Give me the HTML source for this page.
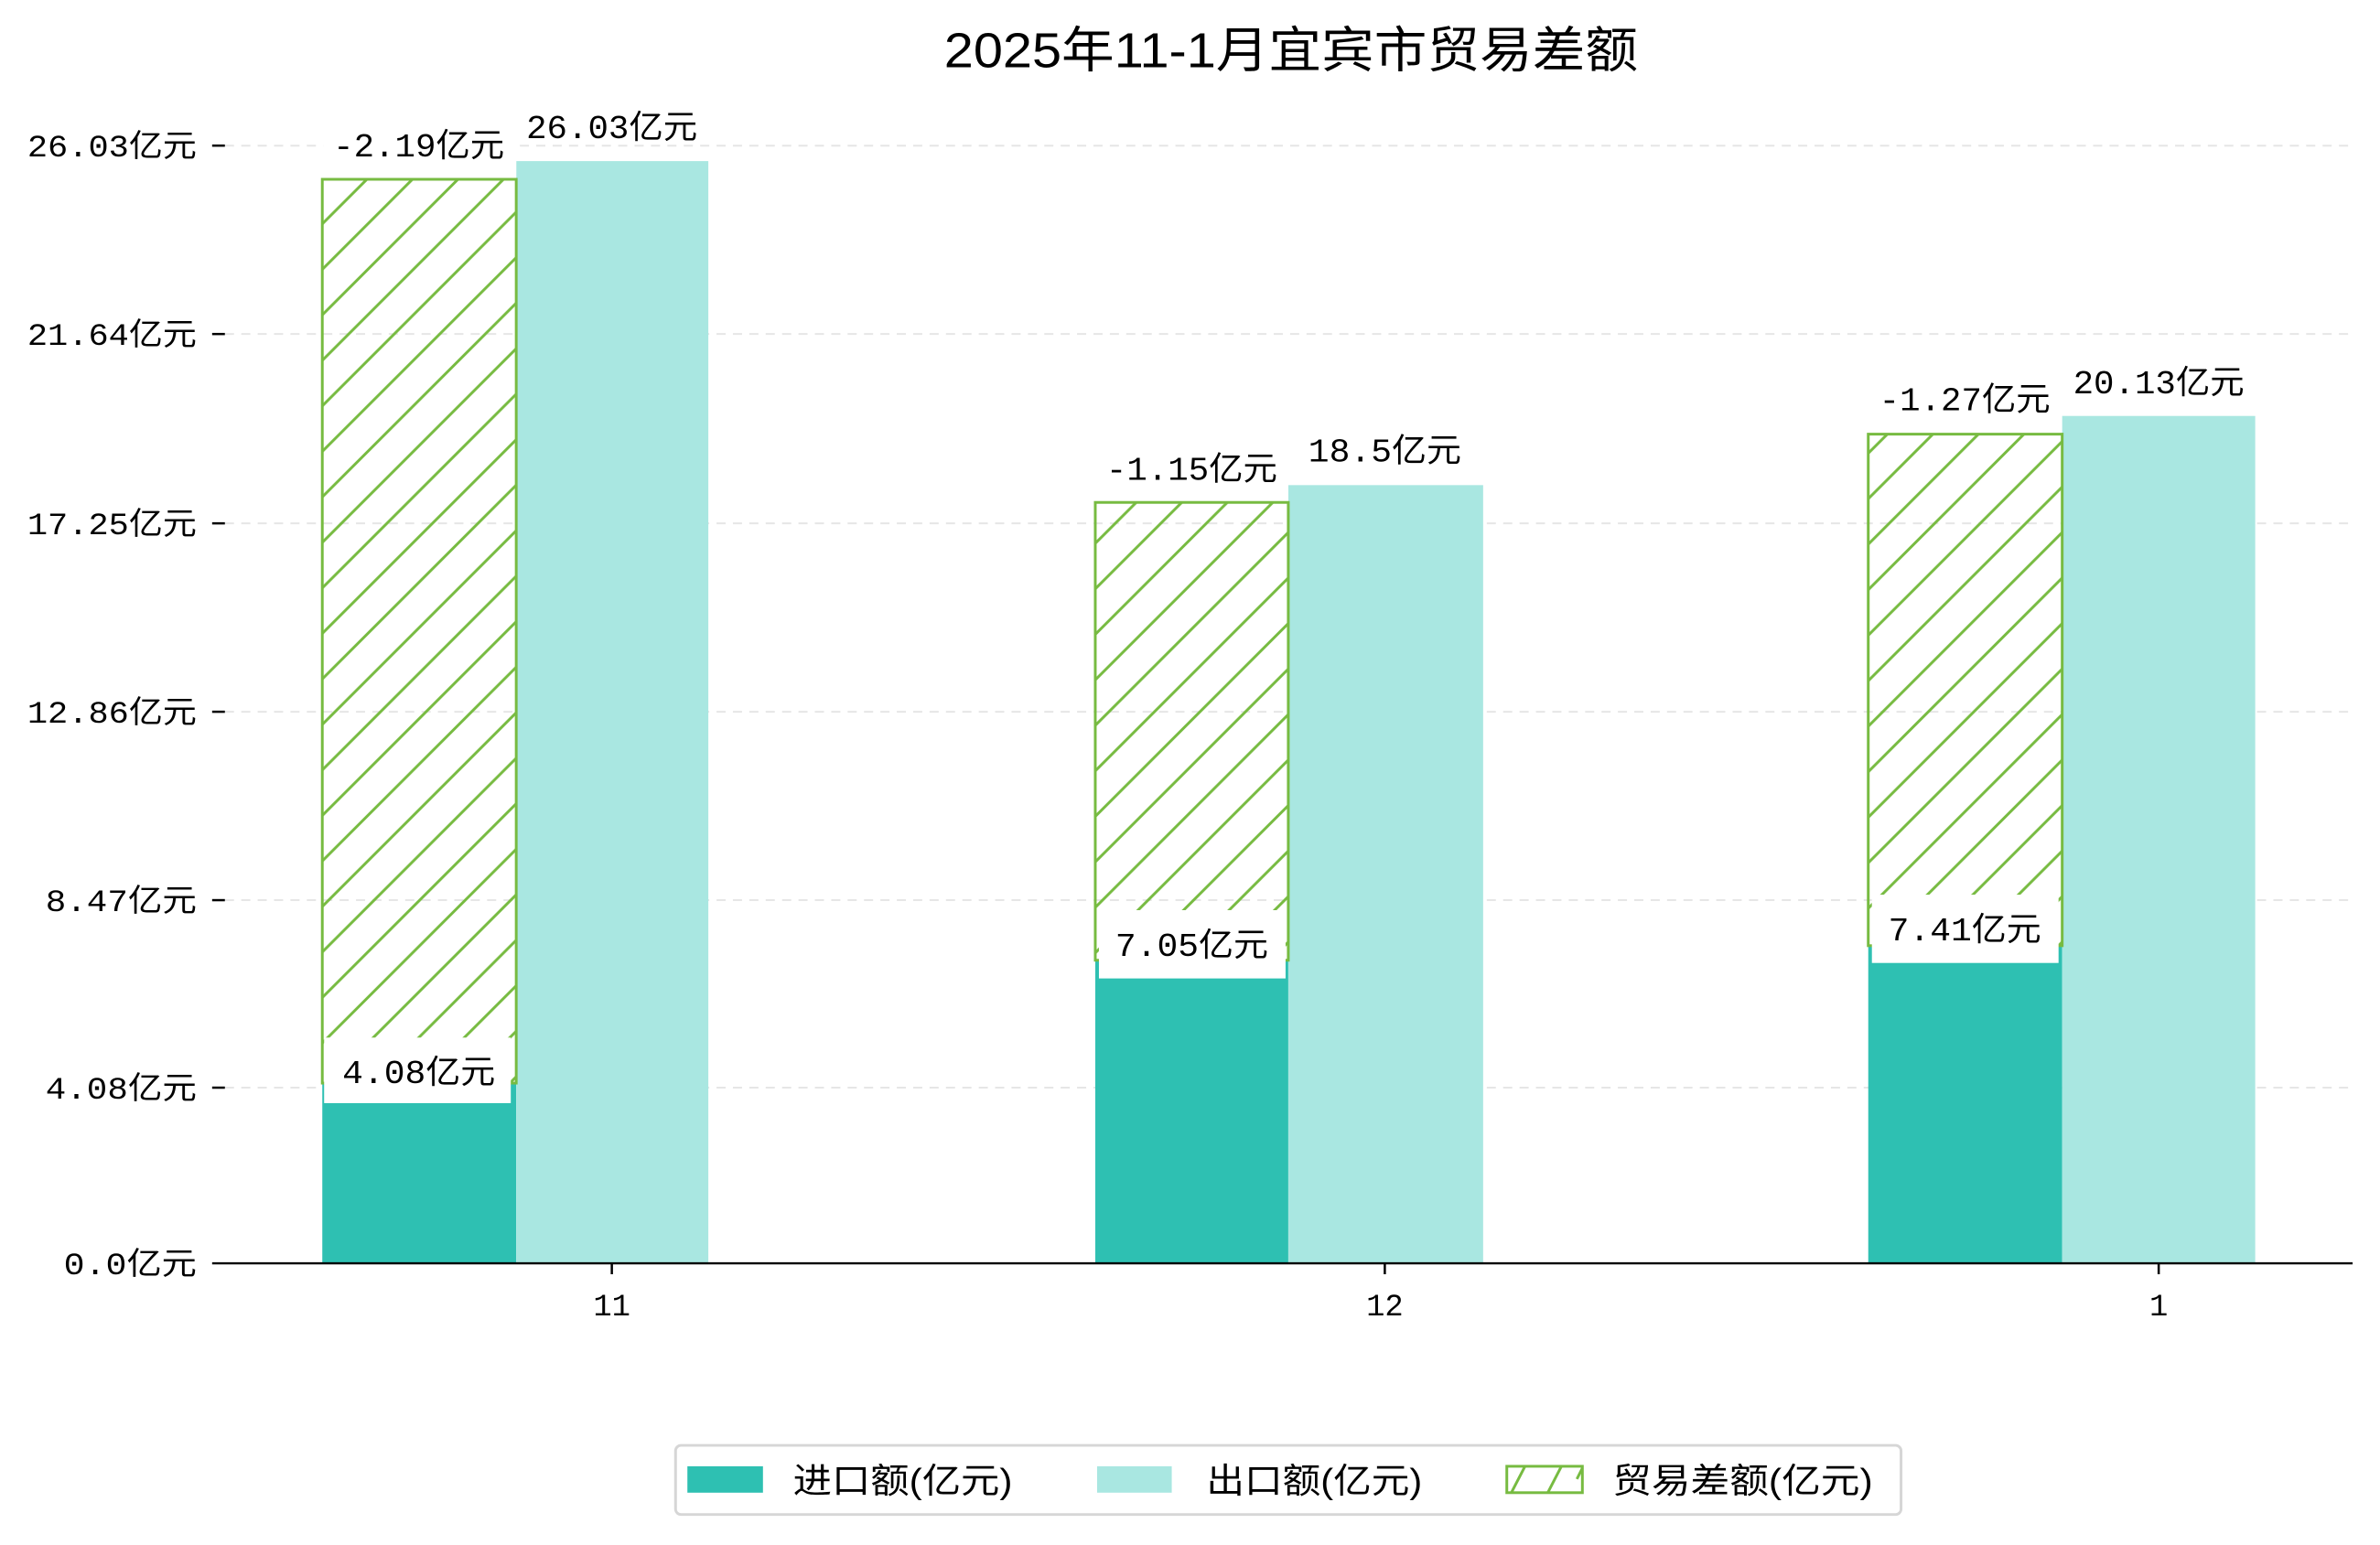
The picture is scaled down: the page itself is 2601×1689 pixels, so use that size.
<!DOCTYPE html>
<html><head><meta charset="utf-8"><style>
html,body{margin:0;padding:0;background:#fff;}
svg{display:block;}
text{font-family:"Liberation Mono","Noto Sans CJK SC",monospace;fill:#000;}
.t{font-family:"Liberation Sans","Noto Sans CJK SC",sans-serif;}
</style></head><body>
<svg width="2601" height="1689" viewBox="0 0 2601 1689" xmlns="http://www.w3.org/2000/svg">
<defs>
<pattern id="h" patternUnits="userSpaceOnUse" width="50" height="50" x="0" y="0">
<path d="M-5 55 L55 -5 M-5 5 L5 -5 M45 55 L55 45" stroke="#77bb41" stroke-width="3"/>
</pattern>
</defs>
<rect width="2601" height="1689" fill="#fff"/>
<g transform="scale(0.995)">
<text class="t" x="1418" y="74" font-size="54" text-anchor="middle" textLength="762" lengthAdjust="spacingAndGlyphs">2025年11-1月宜宾市贸易差额</text>
<g stroke="#e6e6e6" stroke-width="2" stroke-dasharray="10,8">
<line x1="247" y1="160" x2="2584" y2="160"/>
<line x1="247" y1="367" x2="2584" y2="367"/>
<line x1="247" y1="575" x2="2584" y2="575"/>
<line x1="247" y1="782" x2="2584" y2="782"/>
<line x1="247" y1="989" x2="2584" y2="989"/>
<line x1="247" y1="1195" x2="2584" y2="1195"/>
</g>
<rect x="354" y="1190" width="213" height="197" fill="#2ec0b2"/>
<rect x="567" y="177" width="211" height="1210" fill="#a9e7e1"/>
<rect x="354" y="197" width="213" height="993" fill="url(#h)" stroke="#77bb41" stroke-width="3"/>
<rect x="1203" y="1055" width="212" height="332" fill="#2ec0b2"/>
<rect x="1415" y="533" width="214" height="854" fill="#a9e7e1"/>
<rect x="1203" y="552" width="212" height="503" fill="url(#h)" stroke="#77bb41" stroke-width="3"/>
<rect x="2052" y="1039" width="213" height="348" fill="#2ec0b2"/>
<rect x="2265" y="457" width="212" height="930" fill="#a9e7e1"/>
<rect x="2052" y="477" width="213" height="562" fill="url(#h)" stroke="#77bb41" stroke-width="3"/>
<g fill="#fff">
<rect x="356" y="1140" width="205" height="72"/>
<rect x="1207" y="1000" width="205" height="75"/>
<rect x="2056" y="983" width="205" height="75"/>
<rect x="355" y="135" width="212" height="60"/>
<rect x="1203" y="490" width="212" height="60"/>
<rect x="2052" y="413" width="212" height="62"/>
</g>
<g font-size="36" text-anchor="middle">
<text x="460" y="172" textLength="188" lengthAdjust="spacingAndGlyphs">-2.19亿元</text>
<text x="672" y="152" textLength="188" lengthAdjust="spacingAndGlyphs">26.03亿元</text>
<text x="460" y="1190" textLength="168" lengthAdjust="spacingAndGlyphs">4.08亿元</text>
<text x="1309" y="527" textLength="188" lengthAdjust="spacingAndGlyphs">-1.15亿元</text>
<text x="1521" y="507" textLength="168" lengthAdjust="spacingAndGlyphs">18.5亿元</text>
<text x="1309" y="1050" textLength="168" lengthAdjust="spacingAndGlyphs">7.05亿元</text>
<text x="2158" y="451" textLength="188" lengthAdjust="spacingAndGlyphs">-1.27亿元</text>
<text x="2371" y="432" textLength="188" lengthAdjust="spacingAndGlyphs">20.13亿元</text>
<text x="2158" y="1033" textLength="168" lengthAdjust="spacingAndGlyphs">7.41亿元</text>
</g>
<line x1="233" y1="1388" x2="2584" y2="1388" stroke="#000" stroke-width="2.5"/>
<g stroke="#000" stroke-width="2.5">
<line x1="233" y1="160" x2="247" y2="160"/>
<line x1="233" y1="367" x2="247" y2="367"/>
<line x1="233" y1="575" x2="247" y2="575"/>
<line x1="233" y1="782" x2="247" y2="782"/>
<line x1="233" y1="989" x2="247" y2="989"/>
<line x1="233" y1="1195" x2="247" y2="1195"/>
<line x1="672" y1="1388" x2="672" y2="1400"/>
<line x1="1521" y1="1388" x2="1521" y2="1400"/>
<line x1="2371" y1="1388" x2="2371" y2="1400"/>
</g>
<g font-size="34" text-anchor="end">
<text x="216" y="172" textLength="186" lengthAdjust="spacingAndGlyphs">26.03亿元</text>
<text x="216" y="379" textLength="186" lengthAdjust="spacingAndGlyphs">21.64亿元</text>
<text x="216" y="587" textLength="186" lengthAdjust="spacingAndGlyphs">17.25亿元</text>
<text x="216" y="794" textLength="186" lengthAdjust="spacingAndGlyphs">12.86亿元</text>
<text x="216" y="1001" textLength="166" lengthAdjust="spacingAndGlyphs">8.47亿元</text>
<text x="216" y="1207" textLength="166" lengthAdjust="spacingAndGlyphs">4.08亿元</text>
<text x="216" y="1400" textLength="146" lengthAdjust="spacingAndGlyphs">0.0亿元</text>
</g>
<g font-size="34" text-anchor="middle">
<text x="672" y="1445">11</text>
<text x="1521" y="1445">12</text>
<text x="2371" y="1445">1</text>
</g>
<rect x="742" y="1588" width="1346" height="76" rx="6" fill="#fff" stroke="#d6d6d6" stroke-width="3"/>
<rect x="755" y="1611" width="83" height="29" fill="#2ec0b2"/>
<rect x="1205" y="1611" width="82" height="29" fill="#a9e7e1"/>
<rect x="1655" y="1611" width="83" height="29" fill="#fff" stroke="#77bb41" stroke-width="3"/>
<path d="M1660 1640 L1675 1611 M1700 1640 L1715 1611 M1732 1625 L1738 1613" stroke="#77bb41" stroke-width="3"/>
<g font-size="38">
<text class="t" x="871" y="1640" textLength="241" lengthAdjust="spacingAndGlyphs">进口额(亿元)</text>
<text class="t" x="1325" y="1640" textLength="237" lengthAdjust="spacingAndGlyphs">出口额(亿元)</text>
<text class="t" x="1771" y="1640" textLength="286" lengthAdjust="spacingAndGlyphs">贸易差额(亿元)</text>
</g>
</g>
</svg>
</body></html>
